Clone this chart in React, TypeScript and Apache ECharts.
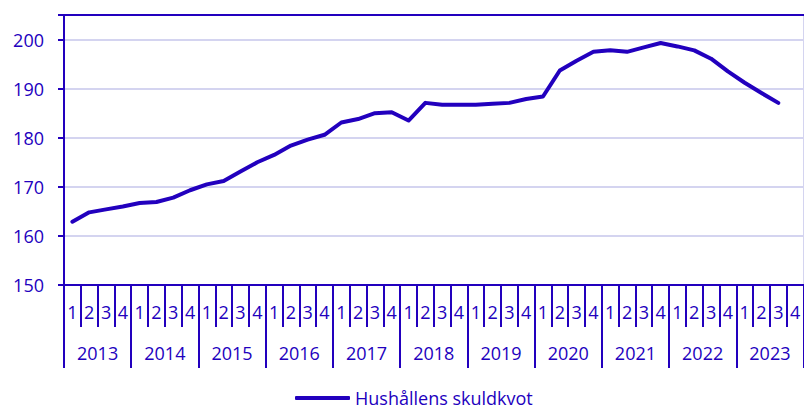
import React, { useEffect, useRef } from "react";
import * as echarts from "echarts";

const years = ["2013", "2014", "2015", "2016", "2017", "2018", "2019", "2020", "2021", "2022", "2023"];
const quarterNames = ["1", "2", "3", "4"];
const seriesName = "Hushållens skuldkvot";
const debtRatio = [
  162.9, 164.8, 165.4, 166.0,
  166.7, 166.9, 167.8, 169.3,
  170.5, 171.2, 173.1, 175.0,
  176.5, 178.4, 179.6, 180.6,
  183.1, 183.8, 185.0, 185.2,
  183.5, 187.1, 186.7, 186.7,
  186.7, 186.9, 187.1, 187.9,
  188.4, 193.7, 195.7, 197.5,
  197.8, 197.5, 198.4, 199.3,
  198.6, 197.8, 196.1, 193.5,
  191.2, 189.1, 187.1,
];
const yMin = 150;
const yMax = 205;
const yInterval = 10;

const DARK = "#2200BE";
const GRID = "#D4D4F0";
const FONT = "'Open Sans', sans-serif";

export default function App() {
  const ref = useRef<HTMLDivElement>(null);
  useEffect(() => {
    if (!ref.current) return;
    const chart = echarts.init(ref.current, undefined, { renderer: "svg" });
    const quarters: string[] = [];
    years.forEach(() => quarterNames.forEach((q) => quarters.push(q)));
    chart.setOption({
      animation: false,
      grid: {
        left: 64,
        right: 0.5,
        top: 15,
        bottom: 125,
        show: true,
        borderColor: GRID,
        borderWidth: 1,
      },
      legend: {
        data: [{ name: seriesName, icon: "roundRect" }],
        left: 295,
        top: 388,
        padding: 0,
        itemWidth: 55,
        itemHeight: 4,
        itemGap: 5,
        itemStyle: { color: DARK, borderWidth: 0 },
        textStyle: { color: DARK, fontSize: 18, fontFamily: FONT, lineHeight: 20 },
      },
      xAxis: [
        {
          type: "category",
          data: quarters,
          position: "bottom",
          boundaryGap: true,
          axisLine: { show: true, lineStyle: { color: DARK, width: 2 } },
          axisTick: { show: true, interval: 0, length: 42, lineStyle: { color: DARK, width: 2 } },
          axisLabel: { interval: 0, color: DARK, fontSize: 18, fontFamily: FONT, margin: 18 },
          splitLine: { show: false },
        },
        {
          type: "category",
          data: years,
          position: "bottom",
          boundaryGap: true,
          axisLine: { show: false },
          axisTick: { show: true, interval: 0, length: 83, lineStyle: { color: DARK, width: 2 } },
          axisLabel: { interval: 0, color: DARK, fontSize: 18, fontFamily: FONT, margin: 59 },
          splitLine: { show: false },
        },
        {
          type: "category",
          data: quarters,
          position: "top",
          axisLine: { show: true, lineStyle: { color: DARK, width: 2 } },
          axisTick: { show: false },
          axisLabel: { show: false },
        },
      ],
      yAxis: {
        type: "value",
        min: yMin,
        max: yMax,
        interval: yInterval,
        axisLine: { show: true, lineStyle: { color: DARK, width: 2 } },
        axisTick: { show: true, length: 6, lineStyle: { color: DARK, width: 2 } },
        axisLabel: {
          color: DARK,
          fontSize: 18,
          fontFamily: FONT,
          margin: 20,
          formatter: (v: number) => (v % yInterval === 0 ? String(v) : ""),
        },
        splitLine: { show: true, lineStyle: { color: GRID, width: 2 } },
      },
      series: [
        {
          name: seriesName,
          type: "line",
          xAxisIndex: 0,
          data: debtRatio,
          showSymbol: false,
          symbol: "none",
          lineStyle: { color: DARK, width: 4, cap: "round", join: "round" },
          itemStyle: { color: DARK },
        },
      ],
    });
    return () => chart.dispose();
  }, []);
  return (
    <div
      ref={ref}
      style={{ position: "absolute", left: 0, top: 0, width: 804, height: 410, background: "#fff" }}
    />
  );
}
